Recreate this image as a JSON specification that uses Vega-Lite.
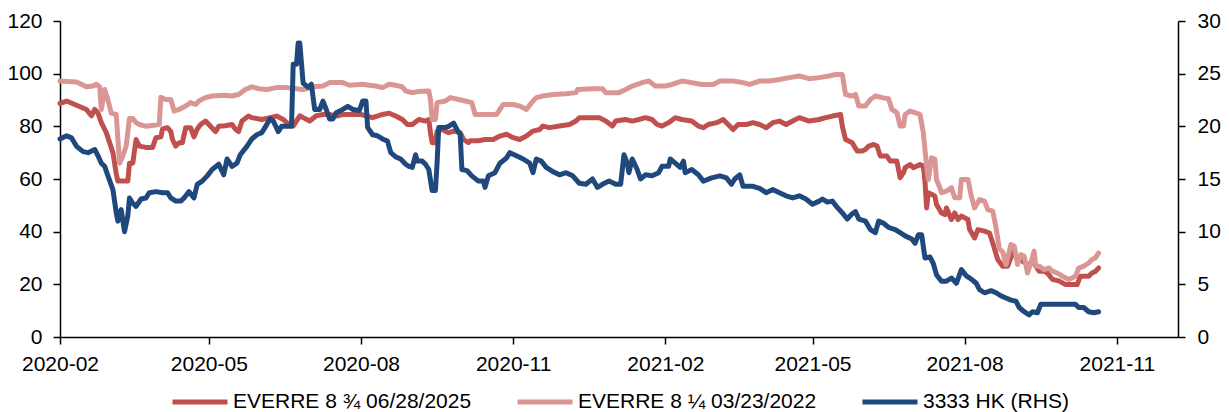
{
  "$schema": "https://vega.github.io/schema/vega-lite/v6.json",
  "width": 1118,
  "height": 316,
  "autosize": {"type": "none"},
  "padding": {"left": 60, "top": 21, "right": 51, "bottom": 75},
  "background": "white",
  "config": {
    "view": {"stroke": null},
    "font": "Liberation Sans",
    "axis": {
      "labelFont": "Liberation Sans",
      "labelFontSize": 21,
      "labelColor": "#000000",
      "domainColor": "#000000",
      "domainWidth": 1.5,
      "tickColor": "#000000",
      "tickWidth": 1.5,
      "tickSize": 7,
      "grid": false,
      "title": null
    },
    "legend": {
      "labelFont": "Liberation Sans",
      "labelFontSize": 21,
      "labelColor": "#000000",
      "padding": 0
    }
  },
  "datasets": {
    "a": [
      {"d":"2020-02-01","v":88.7},{"d":"2020-02-05","v":89.6},{"d":"2020-02-11","v":88},{"d":"2020-02-17","v":86.4},{"d":"2020-02-20","v":84},{"d":"2020-02-22","v":86.4},{"d":"2020-02-24","v":85},{"d":"2020-02-26","v":81.4},{"d":"2020-02-29","v":77.6},{"d":"2020-03-04","v":70},{"d":"2020-03-06","v":62},{"d":"2020-03-07","v":59.2},{"d":"2020-03-13","v":59.2},{"d":"2020-03-14","v":66},{"d":"2020-03-16","v":66},{"d":"2020-03-18","v":75},{"d":"2020-03-20","v":72.5},{"d":"2020-03-24","v":72},{"d":"2020-03-28","v":72},{"d":"2020-03-30","v":75.7},{"d":"2020-04-02","v":76},{"d":"2020-04-03","v":79},{"d":"2020-04-06","v":79.5},{"d":"2020-04-08","v":78},{"d":"2020-04-09","v":75},{"d":"2020-04-11","v":72.5},{"d":"2020-04-13","v":73.8},{"d":"2020-04-15","v":73.8},{"d":"2020-04-17","v":79.5},{"d":"2020-04-20","v":79.5},{"d":"2020-04-22","v":76},{"d":"2020-04-24","v":79},{"d":"2020-04-26","v":80.7},{"d":"2020-04-29","v":82},{"d":"2020-05-02","v":80},{"d":"2020-05-05","v":78},{"d":"2020-05-07","v":80},{"d":"2020-05-11","v":80.2},{"d":"2020-05-15","v":80.7},{"d":"2020-05-17","v":79},{"d":"2020-05-19","v":78},{"d":"2020-05-21","v":82},{"d":"2020-05-25","v":83.9},{"d":"2020-05-27","v":83.3},{"d":"2020-06-02","v":82.6},{"d":"2020-06-07","v":83.3},{"d":"2020-06-11","v":83.9},{"d":"2020-06-15","v":82.6},{"d":"2020-06-19","v":80.4},{"d":"2020-06-21","v":80.1},{"d":"2020-06-25","v":84},{"d":"2020-06-27","v":83.3},{"d":"2020-07-01","v":82},{"d":"2020-07-05","v":84},{"d":"2020-07-09","v":84.5},{"d":"2020-07-13","v":84.5},{"d":"2020-07-17","v":83.9},{"d":"2020-07-21","v":84.5},{"d":"2020-07-25","v":84.5},{"d":"2020-07-29","v":84.5},{"d":"2020-08-01","v":84.5},{"d":"2020-08-04","v":84},{"d":"2020-08-08","v":83.3},{"d":"2020-08-14","v":84.5},{"d":"2020-08-18","v":85},{"d":"2020-08-22","v":83.9},{"d":"2020-08-26","v":82.6},{"d":"2020-08-29","v":80.7},{"d":"2020-09-01","v":80.7},{"d":"2020-09-05","v":82.6},{"d":"2020-09-09","v":82},{"d":"2020-09-11","v":82.6},{"d":"2020-09-12","v":77.6},{"d":"2020-09-13","v":73.8},{"d":"2020-09-15","v":73.8},{"d":"2020-09-16","v":78.2},{"d":"2020-09-19","v":78.8},{"d":"2020-09-23","v":77.6},{"d":"2020-09-26","v":78.2},{"d":"2020-09-30","v":77.6},{"d":"2020-10-02","v":75},{"d":"2020-10-05","v":73.8},{"d":"2020-10-06","v":74.5},{"d":"2020-10-11","v":74.5},{"d":"2020-10-15","v":75},{"d":"2020-10-20","v":75},{"d":"2020-10-24","v":76.3},{"d":"2020-10-28","v":77},{"d":"2020-11-01","v":75.7},{"d":"2020-11-05","v":75},{"d":"2020-11-09","v":76.3},{"d":"2020-11-13","v":78.2},{"d":"2020-11-17","v":78.8},{"d":"2020-11-19","v":80.1},{"d":"2020-11-23","v":79.5},{"d":"2020-11-29","v":80.1},{"d":"2020-12-05","v":80.7},{"d":"2020-12-09","v":82},{"d":"2020-12-11","v":83.3},{"d":"2020-12-17","v":83.3},{"d":"2020-12-23","v":83.3},{"d":"2020-12-27","v":82},{"d":"2020-12-31","v":80.1},{"d":"2021-01-02","v":82},{"d":"2021-01-08","v":82.6},{"d":"2021-01-12","v":82},{"d":"2021-01-16","v":82.6},{"d":"2021-01-20","v":83.3},{"d":"2021-01-24","v":82.6},{"d":"2021-01-27","v":80.7},{"d":"2021-01-30","v":80.1},{"d":"2021-02-03","v":81.4},{"d":"2021-02-07","v":83.3},{"d":"2021-02-11","v":82.6},{"d":"2021-02-17","v":82},{"d":"2021-02-21","v":80.1},{"d":"2021-02-24","v":79.5},{"d":"2021-02-27","v":80.7},{"d":"2021-03-04","v":81.4},{"d":"2021-03-08","v":82.6},{"d":"2021-03-11","v":80.7},{"d":"2021-03-14","v":78.8},{"d":"2021-03-17","v":80.7},{"d":"2021-03-22","v":80.7},{"d":"2021-03-26","v":81.4},{"d":"2021-03-30","v":80.7},{"d":"2021-04-03","v":79.5},{"d":"2021-04-07","v":81.4},{"d":"2021-04-11","v":82},{"d":"2021-04-15","v":80.7},{"d":"2021-04-19","v":82},{"d":"2021-04-23","v":83.3},{"d":"2021-04-29","v":82},{"d":"2021-05-05","v":82.6},{"d":"2021-05-09","v":83.3},{"d":"2021-05-13","v":83.9},{"d":"2021-05-18","v":84.5},{"d":"2021-05-19","v":80.1},{"d":"2021-05-21","v":75},{"d":"2021-05-25","v":73.8},{"d":"2021-05-28","v":70.6},{"d":"2021-05-31","v":70.6},{"d":"2021-06-02","v":71.2},{"d":"2021-06-04","v":72.5},{"d":"2021-06-07","v":73.1},{"d":"2021-06-09","v":72.5},{"d":"2021-06-11","v":68.7},{"d":"2021-06-15","v":68.7},{"d":"2021-06-17","v":66.8},{"d":"2021-06-21","v":66.8},{"d":"2021-06-23","v":60.5},{"d":"2021-06-25","v":62.4},{"d":"2021-06-26","v":64.3},{"d":"2021-06-29","v":65.5},{"d":"2021-07-01","v":64.3},{"d":"2021-07-05","v":65.5},{"d":"2021-07-07","v":64.9},{"d":"2021-07-08","v":59.2},{"d":"2021-07-09","v":49},{"d":"2021-07-10","v":54.8},{"d":"2021-07-12","v":54.2},{"d":"2021-07-14","v":53.5},{"d":"2021-07-15","v":50.3},{"d":"2021-07-18","v":47.1},{"d":"2021-07-20","v":46.5},{"d":"2021-07-21","v":49},{"d":"2021-07-24","v":44.6},{"d":"2021-07-26","v":47.1},{"d":"2021-07-28","v":44.6},{"d":"2021-07-30","v":45.9},{"d":"2021-08-01","v":45.3},{"d":"2021-08-03","v":44.6},{"d":"2021-08-04","v":40.8},{"d":"2021-08-07","v":37.6},{"d":"2021-08-09","v":40.8},{"d":"2021-08-13","v":40.2},{"d":"2021-08-16","v":39.5},{"d":"2021-08-18","v":35.7},{"d":"2021-08-21","v":29.4},{"d":"2021-08-24","v":26.9},{"d":"2021-08-27","v":26.9},{"d":"2021-08-30","v":31.9},{"d":"2021-09-01","v":30.7},{"d":"2021-09-03","v":29.4},{"d":"2021-09-07","v":28.1},{"d":"2021-09-09","v":26.9},{"d":"2021-09-11","v":29.4},{"d":"2021-09-13","v":26.9},{"d":"2021-09-15","v":25},{"d":"2021-09-18","v":25},{"d":"2021-09-20","v":24.3},{"d":"2021-09-23","v":21.9},{"d":"2021-09-27","v":21.3},{"d":"2021-10-01","v":19.9},{"d":"2021-10-05","v":19.9},{"d":"2021-10-08","v":19.9},{"d":"2021-10-10","v":23.1},{"d":"2021-10-13","v":23.1},{"d":"2021-10-15","v":23.1},{"d":"2021-10-17","v":24.3},{"d":"2021-10-19","v":24.9},{"d":"2021-10-21","v":26.2}
    ],
    "b": [
      {"d":"2020-02-01","v":97.2},{"d":"2020-02-11","v":96.8},{"d":"2020-02-17","v":95},{"d":"2020-02-21","v":95.3},{"d":"2020-02-23","v":96},{"d":"2020-02-25","v":95},{"d":"2020-02-26","v":86.4},{"d":"2020-02-28","v":94},{"d":"2020-03-01","v":90},{"d":"2020-03-03","v":85},{"d":"2020-03-06","v":84.5},{"d":"2020-03-08","v":66},{"d":"2020-03-10","v":68.7},{"d":"2020-03-12","v":72.5},{"d":"2020-03-14","v":83},{"d":"2020-03-16","v":83},{"d":"2020-03-18","v":81.4},{"d":"2020-03-20","v":80.7},{"d":"2020-03-24","v":80},{"d":"2020-04-01","v":80.7},{"d":"2020-04-02","v":91},{"d":"2020-04-05","v":90.2},{"d":"2020-04-08","v":90.2},{"d":"2020-04-10","v":85.8},{"d":"2020-04-13","v":86.4},{"d":"2020-04-17","v":87.7},{"d":"2020-04-20","v":89},{"d":"2020-04-23","v":88.3},{"d":"2020-04-25","v":89.6},{"d":"2020-04-29","v":90.9},{"d":"2020-05-03","v":91.5},{"d":"2020-05-11","v":91.8},{"d":"2020-05-15","v":91.5},{"d":"2020-05-19","v":92.1},{"d":"2020-05-23","v":94},{"d":"2020-05-27","v":95},{"d":"2020-05-31","v":94.3},{"d":"2020-06-05","v":94},{"d":"2020-06-11","v":94.7},{"d":"2020-06-17","v":94.7},{"d":"2020-06-23","v":94.3},{"d":"2020-06-27","v":94},{"d":"2020-07-03","v":95},{"d":"2020-07-09","v":95.3},{"d":"2020-07-13","v":96.6},{"d":"2020-07-21","v":96.6},{"d":"2020-07-25","v":95.6},{"d":"2020-08-02","v":96},{"d":"2020-08-06","v":95.6},{"d":"2020-08-10","v":95.3},{"d":"2020-08-14","v":94.7},{"d":"2020-08-18","v":96},{"d":"2020-08-22","v":95.6},{"d":"2020-08-26","v":95},{"d":"2020-08-28","v":93.4},{"d":"2020-09-01","v":92.8},{"d":"2020-09-05","v":93.2},{"d":"2020-09-11","v":93.4},{"d":"2020-09-12","v":90.2},{"d":"2020-09-13","v":82.6},{"d":"2020-09-15","v":82.6},{"d":"2020-09-16","v":89},{"d":"2020-09-21","v":89.6},{"d":"2020-09-24","v":90.9},{"d":"2020-09-29","v":90.2},{"d":"2020-10-03","v":89.6},{"d":"2020-10-07","v":89},{"d":"2020-10-09","v":84.5},{"d":"2020-10-16","v":84.5},{"d":"2020-10-22","v":84.5},{"d":"2020-10-24","v":86.4},{"d":"2020-10-26","v":88.3},{"d":"2020-11-01","v":88.3},{"d":"2020-11-05","v":87.7},{"d":"2020-11-09","v":86.4},{"d":"2020-11-12","v":88.9},{"d":"2020-11-15","v":90.9},{"d":"2020-11-19","v":91.5},{"d":"2020-11-25","v":92.1},{"d":"2020-12-03","v":92.4},{"d":"2020-12-09","v":92.8},{"d":"2020-12-10","v":94},{"d":"2020-12-19","v":94.3},{"d":"2020-12-25","v":94.3},{"d":"2020-12-27","v":92.8},{"d":"2021-01-04","v":92.8},{"d":"2021-01-08","v":94},{"d":"2021-01-12","v":95.3},{"d":"2021-01-18","v":96.6},{"d":"2021-01-22","v":97.2},{"d":"2021-01-26","v":95.3},{"d":"2021-02-01","v":95.3},{"d":"2021-02-05","v":95.9},{"d":"2021-02-11","v":97.2},{"d":"2021-02-17","v":96.6},{"d":"2021-02-23","v":95.9},{"d":"2021-03-02","v":95.9},{"d":"2021-03-06","v":97.2},{"d":"2021-03-14","v":97.2},{"d":"2021-03-20","v":96.6},{"d":"2021-03-24","v":95.9},{"d":"2021-03-30","v":97.2},{"d":"2021-04-05","v":97.2},{"d":"2021-04-11","v":97.8},{"d":"2021-04-17","v":98.5},{"d":"2021-04-23","v":99.1},{"d":"2021-04-29","v":98.1},{"d":"2021-05-05","v":98.5},{"d":"2021-05-11","v":99.1},{"d":"2021-05-15","v":99.7},{"d":"2021-05-19","v":99.7},{"d":"2021-05-21","v":92.1},{"d":"2021-05-25","v":91.5},{"d":"2021-05-27","v":92.1},{"d":"2021-05-29","v":87.7},{"d":"2021-06-02","v":87.7},{"d":"2021-06-05","v":90.2},{"d":"2021-06-08","v":91.5},{"d":"2021-06-12","v":90.9},{"d":"2021-06-16","v":90.5},{"d":"2021-06-18","v":86.4},{"d":"2021-06-21","v":85.2},{"d":"2021-06-23","v":80.1},{"d":"2021-06-25","v":80.1},{"d":"2021-06-26","v":84.5},{"d":"2021-06-29","v":85.8},{"d":"2021-07-02","v":85.2},{"d":"2021-07-05","v":84.5},{"d":"2021-07-07","v":77.6},{"d":"2021-07-09","v":64.9},{"d":"2021-07-10","v":59.8},{"d":"2021-07-12","v":68.1},{"d":"2021-07-14","v":67.5},{"d":"2021-07-15","v":59.8},{"d":"2021-07-17","v":56.7},{"d":"2021-07-18","v":54.8},{"d":"2021-07-21","v":55.4},{"d":"2021-07-24","v":56.7},{"d":"2021-07-26","v":52.9},{"d":"2021-07-29","v":52.9},{"d":"2021-07-30","v":59.8},{"d":"2021-08-03","v":59.8},{"d":"2021-08-05","v":53.5},{"d":"2021-08-07","v":49},{"d":"2021-08-10","v":52.2},{"d":"2021-08-13","v":51.6},{"d":"2021-08-15","v":48.4},{"d":"2021-08-18","v":47.8},{"d":"2021-08-20","v":41.4},{"d":"2021-08-22","v":33.5},{"d":"2021-08-24","v":32.3},{"d":"2021-08-26","v":27.5},{"d":"2021-08-29","v":35.1},{"d":"2021-08-31","v":34.5},{"d":"2021-09-02","v":27.5},{"d":"2021-09-04","v":31.3},{"d":"2021-09-06","v":30.7},{"d":"2021-09-08","v":24.3},{"d":"2021-09-10","v":28.1},{"d":"2021-09-12","v":32.6},{"d":"2021-09-13","v":26.9},{"d":"2021-09-15","v":26.9},{"d":"2021-09-18","v":25.6},{"d":"2021-09-21","v":26.2},{"d":"2021-09-23","v":25},{"d":"2021-09-26","v":24.3},{"d":"2021-09-29","v":23.1},{"d":"2021-10-03","v":21.8},{"d":"2021-10-05","v":22.4},{"d":"2021-10-07","v":23.1},{"d":"2021-10-09","v":26.2},{"d":"2021-10-12","v":26.9},{"d":"2021-10-15","v":28.1},{"d":"2021-10-17","v":29.4},{"d":"2021-10-19","v":30},{"d":"2021-10-21","v":31.9}
    ],
    "c": [
      {"d":"2020-02-01","v":18.8},{"d":"2020-02-05","v":19.1},{"d":"2020-02-08","v":18.9},{"d":"2020-02-11","v":18.1},{"d":"2020-02-15","v":17.6},{"d":"2020-02-18","v":17.5},{"d":"2020-02-22","v":17.8},{"d":"2020-02-24","v":17.2},{"d":"2020-02-26","v":16.5},{"d":"2020-02-28","v":16.2},{"d":"2020-03-01","v":15.3},{"d":"2020-03-04","v":14},{"d":"2020-03-06","v":11.8},{"d":"2020-03-07","v":11},{"d":"2020-03-09","v":12.1},{"d":"2020-03-11","v":10},{"d":"2020-03-13","v":11.5},{"d":"2020-03-14","v":13.2},{"d":"2020-03-16","v":12.7},{"d":"2020-03-18","v":12.4},{"d":"2020-03-21","v":13.1},{"d":"2020-03-24","v":13.2},{"d":"2020-03-26","v":13.7},{"d":"2020-03-30","v":13.8},{"d":"2020-04-03","v":13.7},{"d":"2020-04-06","v":13.7},{"d":"2020-04-08","v":13.2},{"d":"2020-04-11","v":12.9},{"d":"2020-04-14","v":12.9},{"d":"2020-04-16","v":13.2},{"d":"2020-04-19","v":13.8},{"d":"2020-04-22","v":13.2},{"d":"2020-04-24","v":14.5},{"d":"2020-04-27","v":14.8},{"d":"2020-04-30","v":15.3},{"d":"2020-05-03","v":15.9},{"d":"2020-05-07","v":16.4},{"d":"2020-05-10","v":15.4},{"d":"2020-05-12","v":16.9},{"d":"2020-05-15","v":16.2},{"d":"2020-05-18","v":16.5},{"d":"2020-05-20","v":17.3},{"d":"2020-05-24","v":18.1},{"d":"2020-05-27","v":18.8},{"d":"2020-05-30","v":19.2},{"d":"2020-06-02","v":19.4},{"d":"2020-06-04","v":19.9},{"d":"2020-06-07","v":20.7},{"d":"2020-06-09","v":20.5},{"d":"2020-06-12","v":19.5},{"d":"2020-06-14","v":20},{"d":"2020-06-18","v":20},{"d":"2020-06-20","v":20},{"d":"2020-06-21","v":25.9},{"d":"2020-06-23","v":25.9},{"d":"2020-06-24","v":27.9},{"d":"2020-06-25","v":27.9},{"d":"2020-06-27","v":24.1},{"d":"2020-06-30","v":23.7},{"d":"2020-07-02","v":24},{"d":"2020-07-04","v":21.6},{"d":"2020-07-07","v":21.6},{"d":"2020-07-09","v":22.4},{"d":"2020-07-11","v":21.6},{"d":"2020-07-13","v":20.7},{"d":"2020-07-15","v":20.7},{"d":"2020-07-17","v":21.3},{"d":"2020-07-21","v":21.6},{"d":"2020-07-24","v":21.9},{"d":"2020-07-27","v":21.6},{"d":"2020-07-31","v":21.5},{"d":"2020-08-02","v":22.4},{"d":"2020-08-04","v":22.4},{"d":"2020-08-05","v":19.9},{"d":"2020-08-08","v":19.2},{"d":"2020-08-11","v":19.1},{"d":"2020-08-14","v":18.8},{"d":"2020-08-17","v":18.6},{"d":"2020-08-19","v":17.5},{"d":"2020-08-22","v":17.1},{"d":"2020-08-25","v":16.9},{"d":"2020-08-28","v":16.4},{"d":"2020-08-30","v":16.2},{"d":"2020-09-01","v":16.1},{"d":"2020-09-03","v":17.3},{"d":"2020-09-04","v":16.7},{"d":"2020-09-07","v":16.7},{"d":"2020-09-09","v":16.4},{"d":"2020-09-11","v":15.9},{"d":"2020-09-13","v":13.9},{"d":"2020-09-15","v":13.9},{"d":"2020-09-16","v":16.5},{"d":"2020-09-17","v":19.9},{"d":"2020-09-21","v":19.9},{"d":"2020-09-23","v":20},{"d":"2020-09-26","v":20.3},{"d":"2020-09-28","v":19.7},{"d":"2020-09-30","v":19.2},{"d":"2020-10-01","v":15.9},{"d":"2020-10-04","v":15.8},{"d":"2020-10-07","v":15.3},{"d":"2020-10-11","v":14.8},{"d":"2020-10-14","v":14.8},{"d":"2020-10-15","v":14.2},{"d":"2020-10-17","v":15.3},{"d":"2020-10-21","v":15.6},{"d":"2020-10-24","v":16.5},{"d":"2020-10-28","v":17},{"d":"2020-10-30","v":17.5},{"d":"2020-11-03","v":17.2},{"d":"2020-11-07","v":16.9},{"d":"2020-11-11","v":16.5},{"d":"2020-11-13","v":15.6},{"d":"2020-11-15","v":16.9},{"d":"2020-11-18","v":16.7},{"d":"2020-11-21","v":16.1},{"d":"2020-11-25","v":15.7},{"d":"2020-11-29","v":15.4},{"d":"2020-12-03","v":15.6},{"d":"2020-12-07","v":15.3},{"d":"2020-12-11","v":14.6},{"d":"2020-12-15","v":14.5},{"d":"2020-12-19","v":15},{"d":"2020-12-22","v":14.2},{"d":"2020-12-25","v":14.5},{"d":"2020-12-29","v":14.8},{"d":"2021-01-02","v":14.5},{"d":"2021-01-05","v":14.5},{"d":"2021-01-07","v":17.3},{"d":"2021-01-09","v":16.5},{"d":"2021-01-10","v":15.6},{"d":"2021-01-12","v":16.9},{"d":"2021-01-15","v":15.9},{"d":"2021-01-17","v":15},{"d":"2021-01-20","v":15.4},{"d":"2021-01-24","v":15.3},{"d":"2021-01-28","v":15.6},{"d":"2021-01-30","v":16.2},{"d":"2021-02-03","v":16.2},{"d":"2021-02-04","v":16.9},{"d":"2021-02-07","v":16.5},{"d":"2021-02-10","v":16.1},{"d":"2021-02-12","v":16.7},{"d":"2021-02-13","v":15.6},{"d":"2021-02-17","v":15.9},{"d":"2021-02-21","v":15.4},{"d":"2021-02-24","v":14.8},{"d":"2021-03-01","v":15.1},{"d":"2021-03-06","v":15.3},{"d":"2021-03-10","v":15.1},{"d":"2021-03-13","v":14.5},{"d":"2021-03-15","v":15},{"d":"2021-03-18","v":15.4},{"d":"2021-03-20","v":14.3},{"d":"2021-03-26","v":14.3},{"d":"2021-03-30","v":14.1},{"d":"2021-04-03","v":13.7},{"d":"2021-04-07","v":14},{"d":"2021-04-11","v":13.7},{"d":"2021-04-15","v":13.4},{"d":"2021-04-19","v":13.2},{"d":"2021-04-23","v":13.4},{"d":"2021-04-27","v":13.1},{"d":"2021-05-01","v":12.6},{"d":"2021-05-05","v":12.9},{"d":"2021-05-07","v":13.1},{"d":"2021-05-10","v":12.8},{"d":"2021-05-13","v":12.9},{"d":"2021-05-16","v":12.3},{"d":"2021-05-19","v":11.8},{"d":"2021-05-22","v":11.2},{"d":"2021-05-25","v":11.7},{"d":"2021-05-27","v":11.9},{"d":"2021-05-29","v":11.2},{"d":"2021-06-02","v":11},{"d":"2021-06-05","v":10.2},{"d":"2021-06-08","v":9.9},{"d":"2021-06-10","v":11},{"d":"2021-06-13","v":10.8},{"d":"2021-06-16","v":10.4},{"d":"2021-06-20","v":10.2},{"d":"2021-06-23","v":9.9},{"d":"2021-06-26","v":9.6},{"d":"2021-06-30","v":9.3},{"d":"2021-07-02","v":8.9},{"d":"2021-07-04","v":9.7},{"d":"2021-07-06","v":9.7},{"d":"2021-07-08","v":7.5},{"d":"2021-07-11","v":7.6},{"d":"2021-07-13","v":7},{"d":"2021-07-15","v":5.9},{"d":"2021-07-18","v":5.3},{"d":"2021-07-21","v":5.3},{"d":"2021-07-24","v":5.6},{"d":"2021-07-27","v":5.1},{"d":"2021-07-30","v":6.4},{"d":"2021-08-02","v":5.8},{"d":"2021-08-05","v":5.5},{"d":"2021-08-08","v":5.1},{"d":"2021-08-10","v":4.5},{"d":"2021-08-13","v":4.2},{"d":"2021-08-17","v":4.4},{"d":"2021-08-20","v":4.2},{"d":"2021-08-23","v":3.9},{"d":"2021-08-26","v":3.7},{"d":"2021-08-29","v":3.5},{"d":"2021-09-01","v":3.4},{"d":"2021-09-03","v":2.8},{"d":"2021-09-06","v":2.4},{"d":"2021-09-09","v":2.1},{"d":"2021-09-11","v":2.4},{"d":"2021-09-14","v":2.3},{"d":"2021-09-16","v":3.1},{"d":"2021-09-27","v":3.1},{"d":"2021-10-07","v":3.1},{"d":"2021-10-09","v":2.8},{"d":"2021-10-12","v":2.8},{"d":"2021-10-15","v":2.4},{"d":"2021-10-18","v":2.3},{"d":"2021-10-21","v":2.4}
    ]
  },
  "encoding": {
    "x": {
      "field": "d",
      "type": "temporal",
      "scale": {"type": "utc", "domain": [{"year": 2020, "month": 2, "date": 1, "utc": true}, {"year": 2021, "month": 12, "date": 8, "utc": true}]},
      "axis": {
        "orient": "bottom",
        "format": "%Y-%m",
        "labelPadding": 9,
        "labelFlush": false,
        "labelOverlap": false,
        "values": [
          {"year": 2020, "month": 2, "date": 1, "utc": true},
          {"year": 2020, "month": 5, "date": 1, "utc": true},
          {"year": 2020, "month": 8, "date": 1, "utc": true},
          {"year": 2020, "month": 11, "date": 1, "utc": true},
          {"year": 2021, "month": 2, "date": 1, "utc": true},
          {"year": 2021, "month": 5, "date": 1, "utc": true},
          {"year": 2021, "month": 8, "date": 1, "utc": true},
          {"year": 2021, "month": 11, "date": 1, "utc": true}
        ]
      }
    }
  },
  "layer": [
    {
      "layer": [
        {
          "data": {"name": "a"},
          "mark": {"type": "line", "strokeWidth": 5, "strokeJoin": "round", "strokeCap": "round"},
          "encoding": {
            "y": {"field": "v", "type": "quantitative", "scale": {"domain": [0, 120], "nice": false, "zero": true},
              "axis": {"orient": "left", "values": [0, 20, 40, 60, 80, 100, 120], "labelPadding": 11}},
            "color": {
              "datum": "EVERRE 8 ¾ 06/28/2025",
              "scale": {
                "domain": ["EVERRE 8 ¾ 06/28/2025", "EVERRE 8 ¼ 03/23/2022", "3333 HK (RHS)"],
                "range": ["#C0504D", "#DA9694", "#1F497D"]
              },
              "legend": {
                "orient": "none",
                "direction": "horizontal",
                "legendX": 110,
                "legendY": 351,
                "title": null,
                "symbolType": "stroke",
                "symbolSize": 3025,
                "symbolStrokeWidth": 5,
                "labelOffset": 3,
                "columnPadding": 35,
                "labelLimit": 400
              }
            }
          }
        },
        {
          "data": {"name": "b"},
          "mark": {"type": "line", "strokeWidth": 5, "strokeJoin": "round", "strokeCap": "round"},
          "encoding": {
            "y": {"field": "v", "type": "quantitative"},
            "color": {"datum": "EVERRE 8 ¼ 03/23/2022"}
          }
        }
      ]
    },
    {
      "data": {"name": "c"},
      "mark": {"type": "line", "strokeWidth": 5, "strokeJoin": "round", "strokeCap": "round"},
      "encoding": {
        "y": {"field": "v", "type": "quantitative", "scale": {"domain": [0, 30], "nice": false, "zero": true},
          "axis": {"orient": "right", "values": [0, 5, 10, 15, 20, 25, 30], "labelPadding": 12}},
        "color": {"datum": "3333 HK (RHS)"}
      }
    }
  ],
  "resolve": {"scale": {"y": "independent"}}
}
